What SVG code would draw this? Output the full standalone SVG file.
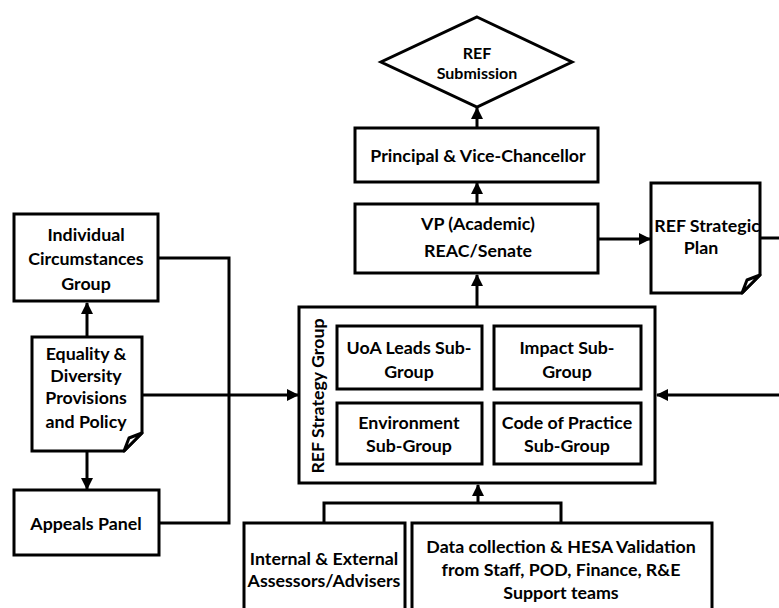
<svg xmlns="http://www.w3.org/2000/svg" width="779" height="608" viewBox="0 0 779 608">
<style>
.b{fill:#fff;stroke:#000;stroke-width:3}
.t{font-family:Lato,"Liberation Sans",sans-serif;font-weight:bold;font-size:17.8px;fill:#000;text-anchor:middle;dominant-baseline:central}
.s{font-size:16px}
.c{fill:none;stroke:#000;stroke-width:3}
</style>
<defs>
<marker id="ah" markerUnits="userSpaceOnUse" markerWidth="12" markerHeight="12" viewBox="0 0 12 12" refX="11" refY="6" orient="auto">
<path d="M0,0 L12,6 L0,12 Z" fill="#000"/>
</marker>
</defs>
<rect width="779" height="608" fill="#fff"/>
<g id="connectors">
<path class="c" d="M477,128 V108" marker-end="url(#ah)"/>
<path class="c" d="M477,204 V183" marker-end="url(#ah)"/>
<path class="c" d="M477,307 V275" marker-end="url(#ah)"/>
<path class="c" d="M598,239 H650" marker-end="url(#ah)"/>
<path class="c" d="M759,238 H790 V395 H657" marker-end="url(#ah)"/>
<path class="c" d="M87,337 V303" marker-end="url(#ah)"/>
<path class="c" d="M87,451 V489" marker-end="url(#ah)"/>
<path class="c" d="M158,258 H229 V523 H159"/>
<path class="c" d="M142,395 H298" marker-end="url(#ah)"/>
<path class="c" d="M324,523 V503 H561 V523"/>
<path class="c" d="M478,503 V485" marker-end="url(#ah)"/>
</g>
<g id="ref-submission">
<polygon class="b" points="477,17 572,62 477,107 381,62"/>
<text class="t s" x="477" y="52">REF</text>
<text class="t s" x="477" y="72.5">Submission</text>
</g>
<g id="principal">
<rect class="b" x="355" y="128" width="243" height="54"/>
<text class="t" x="478" y="155">Principal &amp; Vice-Chancellor</text>
</g>
<g id="vp">
<rect class="b" x="355" y="204" width="243" height="69"/>
<text class="t" x="478" y="223">VP (Academic)</text>
<text class="t" x="478" y="250">REAC/Senate</text>
</g>
<g id="ref-strategic-plan">
<path class="b" d="M651,183 H760 V275 L742,293 H651 Z"/>
<text class="t" x="707" y="225">REF Strategic</text>
<text class="t" x="701" y="247">Plan</text>
<path class="b" d="M760,275 L747,280 L742,293 Z" stroke-linejoin="round"/>
</g>
<g id="individual-circumstances">
<rect class="b" x="14" y="214" width="144" height="87"/>
<text class="t" x="86" y="234">Individual</text>
<text class="t" x="86" y="258">Circumstances</text>
<text class="t" x="86" y="283">Group</text>
</g>
<g id="equality-diversity">
<path class="b" d="M32,337 H142 V433 L124,451 H32 Z"/>
<text class="t" x="86" y="353">Equality &amp;</text>
<text class="t" x="86" y="375">Diversity</text>
<text class="t" x="86" y="397">Provisions</text>
<text class="t" x="86" y="421">and Policy</text>
<path class="b" d="M142,433 L129,438 L124,451 Z" stroke-linejoin="round"/>
</g>
<g id="appeals-panel">
<rect class="b" x="14" y="490" width="145" height="65"/>
<text class="t" x="86" y="523">Appeals Panel</text>
</g>
<g id="ref-strategy-group">
<rect class="b" x="299" y="307" width="356" height="176"/>
<text class="t" transform="translate(317,396) rotate(-90)" x="0" y="0">REF Strategy Group</text>
</g>
<g id="uoa-leads">
<rect class="b" x="337" y="326" width="145" height="63"/>
<text class="t" x="409" y="347">UoA Leads Sub-</text>
<text class="t" x="409" y="371">Group</text>
</g>
<g id="impact">
<rect class="b" x="494" y="326" width="147" height="63"/>
<text class="t" x="567" y="347">Impact Sub-</text>
<text class="t" x="567" y="371">Group</text>
</g>
<g id="environment">
<rect class="b" x="337" y="403" width="145" height="61"/>
<text class="t" x="409" y="422">Environment</text>
<text class="t" x="409" y="445">Sub-Group</text>
</g>
<g id="code-of-practice">
<rect class="b" x="494" y="403" width="147" height="61"/>
<text class="t" x="567" y="422">Code of Practice</text>
<text class="t" x="567" y="445">Sub-Group</text>
</g>
<g id="internal-external">
<rect class="b" x="244" y="523" width="161" height="100"/>
<text class="t" x="324" y="558">Internal &amp; External</text>
<text class="t" x="324" y="580">Assessors/Advisers</text>
</g>
<g id="data-collection">
<rect class="b" x="412" y="523" width="300" height="100"/>
<text class="t" x="561" y="546">Data collection &amp; HESA Validation</text>
<text class="t" x="561" y="569">from Staff, POD, Finance, R&amp;E</text>
<text class="t" x="561" y="592">Support teams</text>
</g>
</svg>
